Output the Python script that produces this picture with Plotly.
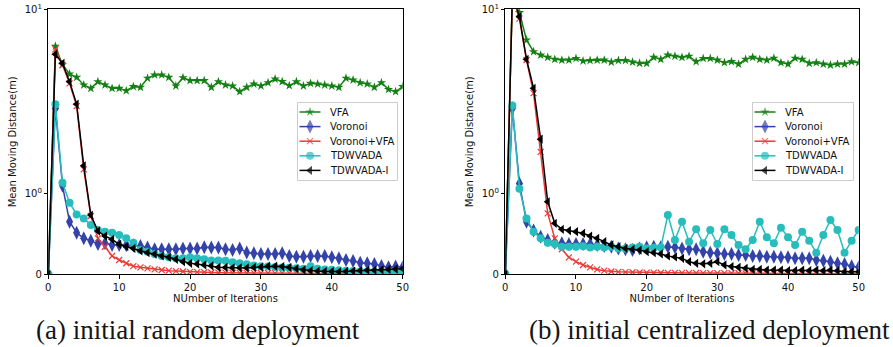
import numpy as np
import plotly.graph_objects as go

# ---------------------------------------------------------------------------
# Mean moving distance per iteration, two deployment scenarios
# ---------------------------------------------------------------------------
iterations = list(range(51))

series_names = ["VFA", "Voronoi", "Voronoi+VFA", "TDWVADA", "TDWVADA-I"]

# (a) initial random deployment
vfa_random = [0, 6.3, 5.0, 4.45, 4.27, 3.88, 3.72, 4.04, 3.88, 3.72, 3.72, 3.61, 3.80, 3.77,
              4.22, 4.40, 4.40, 4.27, 3.83, 4.25, 4.10, 4.10, 4.10, 3.77, 4.04, 3.88, 3.83,
              3.57, 3.77, 3.93, 3.83, 3.99, 4.18, 4.05, 3.85, 4.04, 3.83, 3.96, 3.93, 3.88,
              3.83, 3.77, 4.22, 4.13, 3.99, 3.93, 3.77, 3.99, 3.67, 3.57, 3.80]
voronoi_random = [0, 2.9, 1.10, 0.65, 0.514, 0.444, 0.415, 0.374, 0.383, 0.362, 0.362, 0.36,
                  0.36, 0.35, 0.33, 0.31, 0.31, 0.31, 0.31, 0.32, 0.32, 0.32, 0.335, 0.33,
                  0.33, 0.31, 0.30, 0.32, 0.27, 0.26, 0.25, 0.25, 0.25, 0.26, 0.226, 0.218,
                  0.218, 0.226, 0.226, 0.226, 0.21, 0.197, 0.177, 0.165, 0.144, 0.136, 0.128,
                  0.103, 0.086, 0.095, 0.086]
voronoi_vfa_random = [0, 6.06, 4.98, 3.96, 2.98, 1.35, 0.72, 0.444, 0.34, 0.226, 0.177, 0.136,
                      0.10, 0.086, 0.074, 0.06, 0.053, 0.045, 0.04, 0.035, 0.03, 0.027, 0.025,
                      0.022, 0.02, 0.02, 0.019, 0.018, 0.018, 0.017, 0.016, 0.016, 0.015,
                      0.015, 0.014, 0.014, 0.013, 0.013, 0.012, 0.012, 0.012, 0.011, 0.011,
                      0.010, 0.010, 0.010, 0.009, 0.009, 0.009, 0.008, 0.008]
tdwvada_random = [0, 3.05, 1.14, 0.884, 0.74, 0.69, 0.61, 0.547, 0.526, 0.514, 0.485, 0.444,
                  0.39, 0.30, 0.279, 0.251, 0.226, 0.21, 0.197, 0.197, 0.21, 0.197, 0.185,
                  0.17, 0.17, 0.168, 0.15, 0.136, 0.125, 0.11, 0.10, 0.095, 0.09, 0.085, 0.08,
                  0.074, 0.07, 0.10, 0.07, 0.06, 0.055, 0.05, 0.045, 0.04, 0.035, 0.035, 0.03,
                  0.03, 0.028, 0.025, 0.025]
tdwvada_i_random = [0, 5.7, 5.09, 4.04, 3.05, 1.41, 0.732, 0.534, 0.473, 0.432, 0.37, 0.341,
                    0.32, 0.29, 0.267, 0.25, 0.226, 0.21, 0.185, 0.156, 0.136, 0.128, 0.115,
                    0.105, 0.086, 0.085, 0.08, 0.08, 0.078, 0.085, 0.09, 0.10, 0.10, 0.095,
                    0.085, 0.07, 0.055, 0.045, 0.04, 0.035, 0.035, 0.03, 0.035, 0.04, 0.045,
                    0.05, 0.05, 0.055, 0.06, 0.065, 0.07]

# (b) initial centralized deployment
vfa_central = [0, 12.0, 9.6, 6.81, 5.88, 5.64, 5.48, 5.35, 5.30, 5.30, 5.41, 5.24, 5.27, 5.30,
               5.30, 5.17, 5.27, 5.27, 5.17, 5.09, 5.09, 5.48, 5.35, 5.64, 5.56, 5.48, 5.56,
               5.20, 5.41, 5.41, 5.30, 5.13, 5.20, 5.04, 5.35, 5.48, 5.35, 5.30, 5.42, 5.13,
               5.04, 5.42, 5.35, 5.09, 5.13, 5.04, 4.98, 5.04, 5.04, 5.19, 5.13]
voronoi_central = [0, 2.9, 1.13, 0.65, 0.54, 0.465, 0.423, 0.39, 0.383, 0.374, 0.374, 0.374,
                   0.374, 0.362, 0.35, 0.341, 0.32, 0.309, 0.30, 0.32, 0.333, 0.341, 0.333,
                   0.341, 0.333, 0.32, 0.309, 0.309, 0.279, 0.267, 0.26, 0.251, 0.251, 0.238,
                   0.238, 0.226, 0.226, 0.218, 0.218, 0.21, 0.21, 0.197, 0.197, 0.197, 0.177,
                   0.168, 0.156, 0.136, 0.128, 0.10, 0.086]
voronoi_vfa_central = [0, 12.0, 8.9, 5.3, 3.5, 1.68, 0.753, 0.444, 0.309, 0.21, 0.156, 0.115,
                       0.086, 0.06, 0.045, 0.035, 0.03, 0.027, 0.025, 0.022, 0.02, 0.02,
                       0.019, 0.018, 0.018, 0.017, 0.016, 0.016, 0.015, 0.015, 0.014, 0.014,
                       0.013, 0.013, 0.012, 0.012, 0.012, 0.011, 0.011, 0.010, 0.010, 0.010,
                       0.009, 0.009, 0.009, 0.008, 0.008, 0.008, 0.008, 0.007, 0.007]
tdwvada_central = [0, 3.0, 1.06, 0.69, 0.526, 0.444, 0.39, 0.374, 0.341, 0.341, 0.341, 0.346,
                   0.33, 0.341, 0.33, 0.341, 0.32, 0.32, 0.33, 0.341, 0.32, 0.329, 0.333,
                   0.732, 0.423, 0.65, 0.403, 0.556, 0.383, 0.547, 0.374, 0.556, 0.485, 0.362,
                   0.309, 0.423, 0.65, 0.457, 0.383, 0.576, 0.457, 0.362, 0.526, 0.415, 0.267,
                   0.485, 0.67, 0.547, 0.267, 0.415, 0.547]
tdwvada_i_central = [0, 12.0, 9.1, 5.35, 3.72, 1.97, 0.896, 0.63, 0.556, 0.54, 0.526, 0.506,
                     0.473, 0.444, 0.403, 0.362, 0.341, 0.32, 0.309, 0.30, 0.279, 0.267,
                     0.251, 0.226, 0.214, 0.197, 0.156, 0.136, 0.13, 0.136, 0.156, 0.115,
                     0.095, 0.086, 0.074, 0.06, 0.06, 0.053, 0.053, 0.053, 0.045, 0.045,
                     0.053, 0.045, 0.053, 0.045, 0.053, 0.045, 0.03, 0.03, 0.03]

y_tick_values = [0, 1, 10]
y_tick_labels = ["0", "10<sup>0</sup>", "10<sup>1</sup>"]
x_tick_values = [0, 10, 20, 30, 40, 50]

captions = ["(a) initial random deployment", "(b) initial centralized deployment"]

# ---------------------------------------------------------------------------
# Symmetric-log style scale: linear below 1, logarithmic above
# ---------------------------------------------------------------------------
LIN_SPAN = 0.44  # height of the 0..1 linear band, in decades


def symlog(values):
    v = np.asarray(values, dtype=float)
    return np.where(v <= 1.0, v * LIN_SPAN, LIN_SPAN + np.log10(np.maximum(v, 1e-12)))


Y_TOP = float(symlog([10])[0])

styles = [
    dict(color="#138013", symbol="star", size=7, lw=0),
    dict(color="#3343AA", symbol="diamond-tall", size=10, lw=0),
    dict(color="#EE3A35", symbol="x-thin", size=6, lw=1.2),
    dict(color="#27BDBD", symbol="circle", size=8, lw=0),
    dict(color="#000000", symbol="triangle-left", size=8, lw=0),
]


def marker_for(st, size=None):
    m = dict(symbol=st["symbol"], size=st["size"] if size is None else size, color=st["color"])
    m["line"] = dict(width=st["lw"], color=st["color"]) if st["lw"] else dict(width=0)
    return m


W, H = 893, 347

panels = [
    dict(data=[vfa_random, voronoi_random, voronoi_vfa_random, tdwvada_random, tdwvada_i_random],
         xaxis="x", yaxis="y", xdom=(48.3, 402.7), legend_box=(297, 398), caption_x=197.5),
    dict(data=[vfa_central, voronoi_central, voronoi_vfa_central, tdwvada_central,
               tdwvada_i_central],
         xaxis="x2", yaxis="y2", xdom=(505.3, 858.7), legend_box=(752, 854), caption_x=709.5),
]

fig = go.Figure()
for panel in panels:
    for name, values, st in zip(series_names, panel["data"], styles):
        fig.add_trace(go.Scatter(
            x=iterations, y=symlog(values), name=name, mode="lines+markers",
            line=dict(color=st["color"], width=1.5), marker=marker_for(st),
            xaxis=panel["xaxis"], yaxis=panel["yaxis"], showlegend=False,
        ))

# ---------------------------------------------------------------------------
# Compact legends, drawn on hidden pixel-unit axes inside each panel
# ---------------------------------------------------------------------------
LEG_TOP, LEG_BOTTOM = 102, 181
ROW0, ROW_STEP = 112.0, 14.6
legend_font = dict(family="DejaVu Sans", size=10, color="#111")
annotations = []
layout_axes = {}
for k, panel in enumerate(panels):
    x0, x1 = panel["legend_box"]
    xa_name, ya_name = f"x{k + 3}", f"y{k + 3}"
    layout_axes[f"xaxis{k + 3}"] = dict(domain=[x0 / W, x1 / W], range=[x0, x1], visible=False,
                                        fixedrange=True, anchor=ya_name)
    layout_axes[f"yaxis{k + 3}"] = dict(domain=[(H - LEG_BOTTOM) / H, (H - LEG_TOP) / H],
                                        range=[LEG_BOTTOM, LEG_TOP], visible=False,
                                        fixedrange=True, anchor=xa_name)
    # frame
    fig.add_trace(go.Scatter(
        x=[x0 + 0.5, x1 - 0.5, x1 - 0.5, x0 + 0.5, x0 + 0.5],
        y=[LEG_TOP + 0.5, LEG_TOP + 0.5, LEG_BOTTOM - 0.5, LEG_BOTTOM - 0.5, LEG_TOP + 0.5],
        mode="lines", fill="toself", fillcolor="rgba(255,255,255,0.9)",
        line=dict(color="#cccccc", width=1), xaxis=xa_name, yaxis=ya_name,
        showlegend=False, hoverinfo="skip",
    ))
    h0, h1 = x0 + 2.5, x0 + 23.5
    for row, (name, st) in enumerate(zip(series_names, styles)):
        yy = ROW0 + ROW_STEP * row
        fig.add_trace(go.Scatter(
            x=[h0, (h0 + h1) / 2, h1], y=[yy, yy, yy], mode="lines+markers",
            line=dict(color=st["color"], width=1.5),
            marker=dict(symbol=st["symbol"], color=st["color"],
                        size=[0, st["size"], 0],
                        line=dict(width=st["lw"], color=st["color"]) if st["lw"] else dict(width=0)),
            xaxis=xa_name, yaxis=ya_name, showlegend=False, hoverinfo="skip",
        ))
        annotations.append(dict(
            text=name, x=x0 + 31, y=yy, xref=xa_name, yref=ya_name, showarrow=False,
            xanchor="left", yanchor="middle", font=legend_font,
        ))

tick_font = dict(family="DejaVu Sans", size=10, color="#111")

x_common = dict(range=[0, 50], tickvals=x_tick_values, ticks="outside", ticklen=3.5,
                tickwidth=0.8, tickcolor="black", showline=True, linecolor="black",
                linewidth=0.9, mirror=True, showgrid=False, zeroline=False,
                tickfont=tick_font, automargin=False,
                title=dict(text="NUmber of Iterations", font=tick_font, standoff=2))
y_common = dict(range=[0, Y_TOP], tickvals=list(symlog(y_tick_values)), ticktext=y_tick_labels,
                ticks="outside", ticklen=3.5, tickwidth=0.8, tickcolor="black",
                showline=True, linecolor="black", linewidth=0.9, mirror=True,
                showgrid=False, zeroline=False, tickfont=tick_font, automargin=False,
                title=dict(text="Mean Moving Distance(m)", font=tick_font, standoff=6))

ydom = [(H - 274.3) / H, (H - 9.3) / H]

# Sub-figure captions beneath each panel
caption_font = dict(family="Liberation Serif", size=27, color="#151515")
for cap, panel in zip(captions, panels):
    annotations.append(dict(text=cap, x=panel["caption_x"] / W, y=(H - 330) / H, xref="paper",
                            yref="paper", showarrow=False, xanchor="center", yanchor="middle",
                            font=caption_font))

fig.update_layout(
    width=W, height=H, margin=dict(l=0, r=0, t=0, b=0),
    paper_bgcolor="white", plot_bgcolor="white", showlegend=False,
    xaxis=dict(domain=[panels[0]["xdom"][0] / W, panels[0]["xdom"][1] / W], anchor="y",
               **x_common),
    yaxis=dict(domain=ydom, anchor="x", **y_common),
    xaxis2=dict(domain=[panels[1]["xdom"][0] / W, panels[1]["xdom"][1] / W], anchor="y2",
                **x_common),
    yaxis2=dict(domain=ydom, anchor="x2", **y_common),
    annotations=annotations,
    **layout_axes,
)

fig.write_html("out.html")
